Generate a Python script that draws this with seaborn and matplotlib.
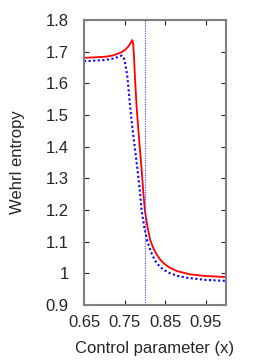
import numpy as np
import pandas as pd
import seaborn as sns
import matplotlib.pyplot as plt

# values
x_red = [0.65, 0.70, 0.72, 0.74, 0.75, 0.755, 0.76, 0.764, 0.767, 0.769, 0.771, 0.773,
         0.776, 0.780, 0.786, 0.792, 0.796, 0.800, 0.806, 0.813, 0.820, 0.828, 0.838,
         0.848, 0.860, 0.879, 0.91, 0.944, 1.0]
y_red = [1.681, 1.684, 1.688, 1.697, 1.705, 1.711, 1.718, 1.726, 1.732, 1.737, 1.728, 1.69,
         1.61, 1.52, 1.42, 1.33, 1.26, 1.20, 1.15, 1.106, 1.082, 1.062, 1.043,
         1.030, 1.019, 1.007, 0.997, 0.992, 0.988]
x_blue = [0.65, 0.70, 0.72, 0.735, 0.743, 0.748, 0.752, 0.757, 0.762, 0.768, 0.775, 0.782,
          0.787, 0.792, 0.798, 0.805, 0.815, 0.822, 0.829, 0.845, 0.862, 0.88, 0.903,
          0.95, 1.0]
y_blue = [1.670, 1.674, 1.678, 1.684, 1.688, 1.682, 1.660, 1.621, 1.55, 1.475, 1.40, 1.327,
          1.27, 1.20, 1.15, 1.106, 1.068, 1.048, 1.032, 1.012, 1.0, 0.992, 0.986,
          0.979, 0.976]
x_crit = 0.8
xticks = [0.65, 0.75, 0.85, 0.95]
yticks = [0.9, 1.0, 1.1, 1.2, 1.3, 1.4, 1.5, 1.6, 1.7, 1.8]
ytick_labels = ["0.9", "1", "1.1", "1.2", "1.3", "1.4", "1.5", "1.6", "1.7", "1.8"]

sns.set_style("ticks")
plt.rcParams['font.family'] = ['Liberation Sans', 'DejaVu Sans']

fig = plt.figure(figsize=(2.57, 3.6), dpi=100)
ax = fig.add_axes([0.327, 0.153, 0.552, 0.791])

red = pd.DataFrame({"x": x_red, "y": y_red})
blue = pd.DataFrame({"x": x_blue, "y": y_blue})
sns.lineplot(data=red, x="x", y="y", ax=ax, color="#ff0000", lw=1.3)
sns.lineplot(data=blue, x="x", y="y", ax=ax, color="#0000ff", lw=1.5, linestyle=(0, (1, 1.2)))
# critical point marker
ax.axvline(x_crit, color="#3a3aff", lw=0.8, linestyle=(0, (1, 1.2)))

ax.set_xlim(0.65, 1.0)
ax.set_ylim(0.9, 1.8)
ax.set_xticks(xticks)
ax.set_xticklabels([str(t) for t in xticks])
ax.set_yticks(yticks)
ax.set_yticklabels(ytick_labels)
ax.tick_params(direction="in", top=True, right=True, length=3.5, width=0.8,
               color="#222222", labelsize=12)
ax.tick_params(axis="x", pad=7)
ax.tick_params(axis="y", pad=11)
for s in ax.spines.values():
    s.set_color("#808080")
    s.set_linewidth(1.5)
    s.set_visible(True)

ax.set_xlabel("Control parameter (x)", fontsize=12, labelpad=8)
ax.set_ylabel("Wehrl entropy", fontsize=12, labelpad=15)

fig.savefig("out.png", dpi=100)
